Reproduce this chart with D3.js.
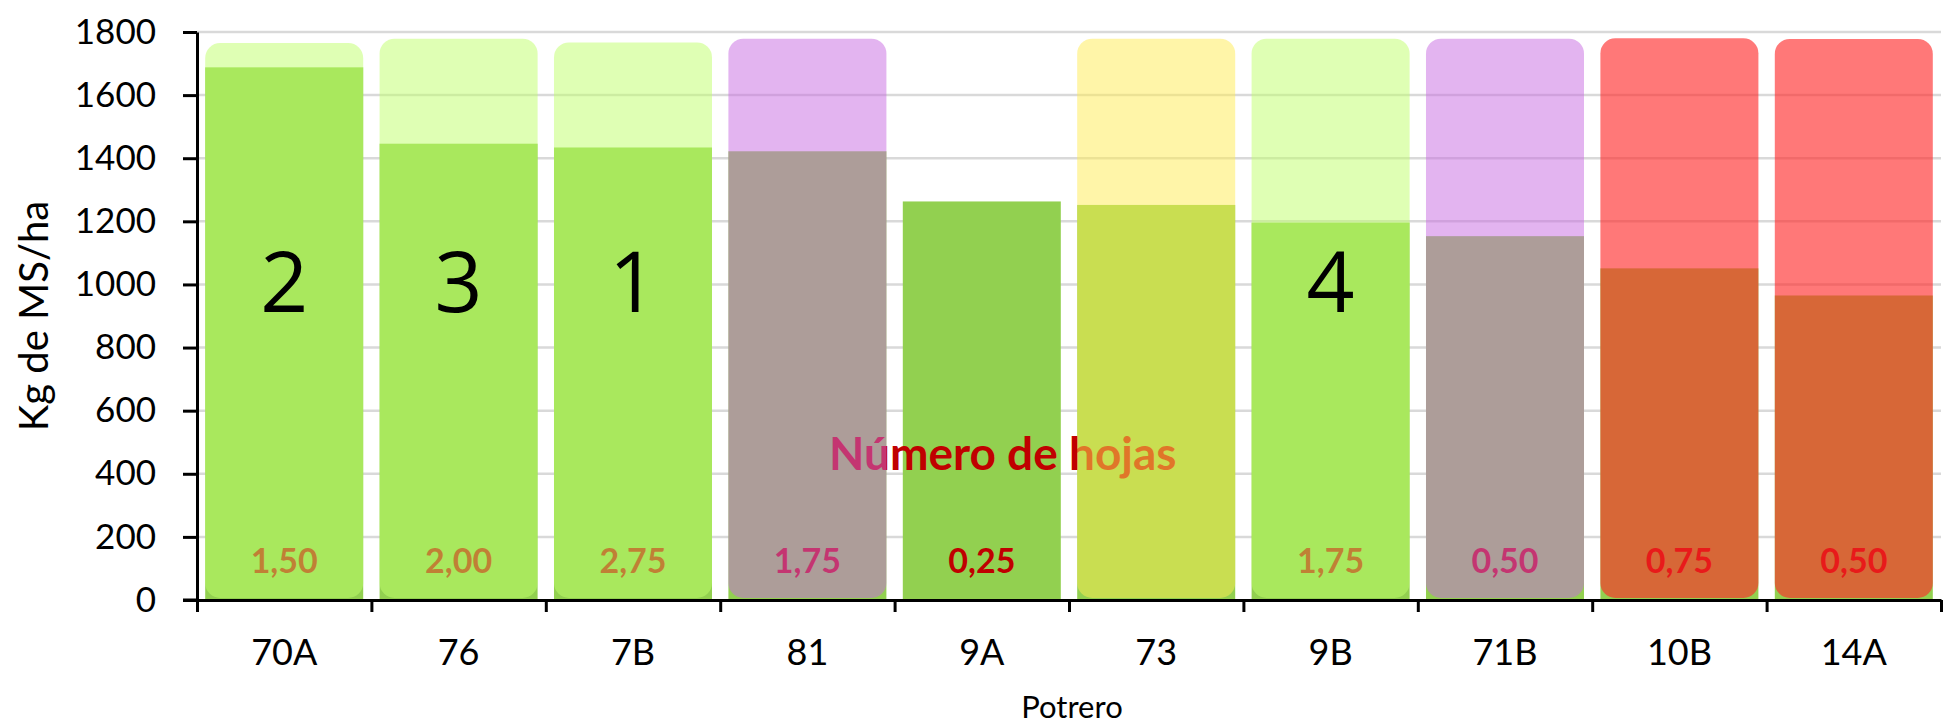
<!DOCTYPE html>
<html>
<head>
<meta charset="utf-8">
<script src="https://cdn.jsdelivr.net/npm/d3@7"></script>
<style>
  html, body { margin: 0; padding: 0; background: #fff; }
  svg text { font-family: Lato, "Open Sans", sans-serif; }
</style>
</head>
<body>
<div id="chart"></div>
<script>
// Data
const potreros = ["70A", "76", "7B", "81", "9A", "73", "9B", "71B", "10B", "14A"];
const kgMS = [1688, 1446, 1434, 1422, 1263, 1252, 1196, 1153, 1051, 965];
// height of the translucent rounded bars behind/over each potrero (0 = none)
const cobertura = [1765, 1779, 1767, 1779, 0, 1779, 1779, 1779, 1780, 1778];
const grupo = ["verde", "verde", "verde", "lila", null, "amarillo", "verde", "lila", "rojo", "rojo"];
const hojas = ["1,50", "2,00", "2,75", "1,75", "0,25", "", "1,75", "0,50", "0,75", "0,50"];
const orden = ["2", "3", "1", "", "", "", "4", "", "", ""];
const yTicks = [0, 200, 400, 600, 800, 1000, 1200, 1400, 1600, 1800];

// Colours
const baseGreen = "#92d050";
const labelRed = "#c00000";
const overlay = {
  verde: { fill: "rgb(191,255,105)", opacity: 0.5 },
  lila: { fill: "rgb(199,105,225)", opacity: 0.5 },
  amarillo: { fill: "rgb(255,235,81)", opacity: 0.5 },
  rojo: { fill: "rgb(255,41,41)", opacity: 0.63 },
};

const width = 1955;
const height = 728;
const margin = { top: 32, right: 14, bottom: 128, left: 197 };

const svg = d3
  .select("#chart")
  .append("svg")
  .attr("width", width)
  .attr("height", height)
  .attr("viewBox", [0, 0, width, height]);

// Scales
const xScale = d3
  .scaleBand()
  .domain(potreros)
  .range([margin.left, width - margin.right])
  .paddingInner(0.094)
  .paddingOuter(0.047);
const yScale = d3
  .scaleLinear()
  .domain([0, 1800])
  .range([height - margin.bottom, margin.top]);

const rows = potreros.map((p, i) => ({
  name: p,
  kg: kgMS[i],
  cob: cobertura[i],
  grupo: grupo[i],
  hojas: hojas[i],
  orden: orden[i],
}));

// Grid lines
svg
  .append("g")
  .attr("class", "grid")
  .selectAll("line")
  .data(yTicks.filter((d) => d > 0))
  .enter()
  .append("line")
  .attr("x1", margin.left)
  .attr("x2", width - margin.right)
  .attr("y1", (d) => yScale(d))
  .attr("y2", (d) => yScale(d))
  .attr("stroke", "#d9d9d9")
  .attr("stroke-width", 2.5);

// Main bars (Kg de MS/ha)
svg
  .append("g")
  .selectAll("rect")
  .data(rows)
  .enter()
  .append("rect")
  .attr("x", (d) => xScale(d.name))
  .attr("width", xScale.bandwidth())
  .attr("y", (d) => yScale(d.kg))
  .attr("height", (d) => yScale(0) - yScale(d.kg))
  .attr("fill", baseGreen);

// Leaf count labels, drawn under the translucent bars so they get tinted
svg
  .append("g")
  .selectAll("text")
  .data(rows)
  .enter()
  .append("text")
  .attr("x", (d) => xScale(d.name) + xScale.bandwidth() / 2)
  .attr("y", yScale(85))
  .attr("text-anchor", "middle")
  .attr("font-size", 34)
  .attr("font-weight", 700)
  .attr("fill", labelRed)
  .text((d) => d.hojas);

svg
  .append("text")
  .attr("x", xScale("9A") + xScale.bandwidth() / 2 + 21)
  .attr("y", yScale(412))
  .attr("text-anchor", "middle")
  .attr("font-size", 46)
  .attr("font-weight", 700)
  .attr("fill", labelRed)
  .text("Número de hojas");

// Translucent rounded bars
const r = 15;
svg
  .append("g")
  .selectAll("rect")
  .data(rows.filter((d) => d.grupo))
  .enter()
  .append("rect")
  .attr("x", (d) => xScale(d.name))
  .attr("width", xScale.bandwidth())
  .attr("y", (d) => yScale(d.cob))
  .attr("height", (d) => yScale(0) - yScale(d.cob) - 2)
  .attr("rx", r)
  .attr("ry", r)
  .attr("fill", (d) => overlay[d.grupo].fill)
  .attr("fill-opacity", (d) => overlay[d.grupo].opacity);

// Axes
const yAxis = d3
  .axisLeft(yScale)
  .tickValues(yTicks)
  .tickFormat(d3.format("d"))
  .tickSize(14)
  .tickSizeOuter(0)
  .tickPadding(27);
const gy = svg
  .append("g")
  .attr("transform", `translate(${margin.left},0)`)
  .call(yAxis);
gy.selectAll("text").attr("font-size", 35).attr("fill", "#000");

// x axis: labels at band centres, ticks at band boundaries
const xAxis = d3.axisBottom(xScale).tickSize(0).tickPadding(39);
const gx = svg
  .append("g")
  .attr("transform", `translate(0,${yScale(0)})`)
  .call(xAxis);
gx.select(".domain").remove();
gx.selectAll("text").attr("font-size", 36).attr("fill", "#000");

const boundary = d3
  .scaleLinear()
  .domain([0, potreros.length])
  .range(xScale.range());
const gxTicks = svg
  .append("g")
  .attr("transform", `translate(0,${yScale(0)})`)
  .call(
    d3
      .axisBottom(boundary)
      .ticks(potreros.length)
      .tickFormat("")
      .tickSize(12)
      .tickSizeOuter(0)
  );

[gy, gxTicks].forEach((g) => {
  g.selectAll("path, line").attr("stroke", "#000").attr("stroke-width", 3);
});
// let the x axis line run into the 0 tick on the left
gxTicks
  .append("line")
  .attr("x1", margin.left - 14)
  .attr("x2", margin.left)
  .attr("stroke", "#000")
  .attr("stroke-width", 3);

// Ranking numbers on top
svg
  .append("g")
  .selectAll("text")
  .data(rows)
  .enter()
  .append("text")
  .attr("x", (d) => xScale(d.name) + xScale.bandwidth() / 2)
  .attr("y", yScale(912))
  .attr("text-anchor", "middle")
  .attr("font-size", 84)
  .style("font-family", "'Open Sans', sans-serif")
  .attr("fill", "#000")
  .text((d) => d.orden);

// Axis titles
svg
  .append("text")
  .attr("transform", `translate(48,${(yScale(0) + yScale(1800)) / 2}) rotate(-90)`)
  .attr("text-anchor", "middle")
  .attr("font-size", 40)
  .attr("fill", "#000")
  .text("Kg de MS/ha");

svg
  .append("text")
  .attr("x", (margin.left + width - margin.right) / 2 + 3)
  .attr("y", 718)
  .attr("text-anchor", "middle")
  .attr("font-size", 31)
  .attr("fill", "#000")
  .text("Potrero");
</script>
</body>
</html>
